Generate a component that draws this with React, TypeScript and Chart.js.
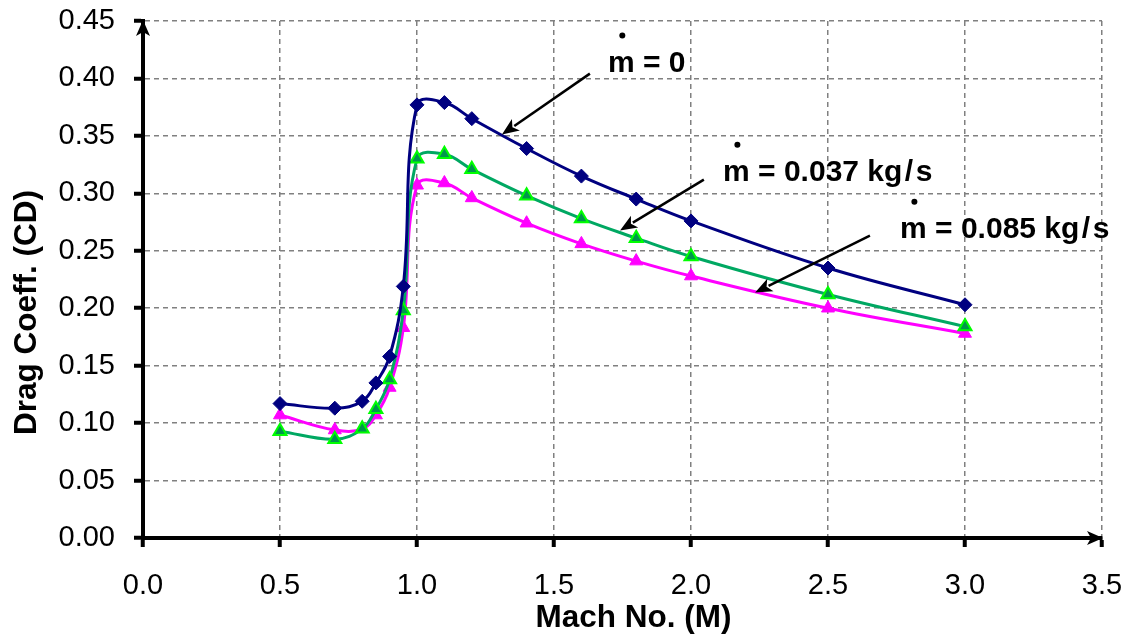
import { useEffect, useRef } from "react";
import { Chart, registerables } from "chart.js";

Chart.register(...registerables);

const FONT = "'Liberation Sans', Arial, sans-serif";

// Mach numbers (x) and drag coefficients (y) for the three mass-flow cases
const machNumbers = [0.5, 0.7, 0.8, 0.85, 0.9, 0.95, 1.0, 1.1, 1.2, 1.4, 1.6, 1.8, 2.0, 2.5, 3.0];
const cdZero = [0.117, 0.113, 0.119, 0.135, 0.158, 0.219, 0.377, 0.379, 0.365, 0.339, 0.315, 0.295, 0.276, 0.235, 0.203];
const cd037 = [0.093, 0.086, 0.095, 0.112, 0.138, 0.198, 0.330, 0.334, 0.321, 0.298, 0.278, 0.261, 0.245, 0.212, 0.184];
const cd085 = [0.107, 0.094, 0.095, 0.107, 0.131, 0.183, 0.307, 0.309, 0.296, 0.274, 0.256, 0.241, 0.228, 0.200, 0.178];

const xTickValues = [0, 0.5, 1.0, 1.5, 2.0, 2.5, 3.0, 3.5];
const xTickLabels = ["0.0", "0.5", "1.0", "1.5", "2.0", "2.5", "3.0", "3.5"];
const yTickValues = [0, 0.05, 0.1, 0.15, 0.2, 0.25, 0.3, 0.35, 0.4, 0.45];
const yTickLabels = ["0.00", "0.05", "0.10", "0.15", "0.20", "0.25", "0.30", "0.35", "0.40", "0.45"];

const xTitle = "Mach No. (M)";
const yTitle = "Drag Coeff. (CD)";

// Annotation labels: text after the dotted "m", text anchor and arrow (data coordinates)
const annoTexts = [" = 0", " = 0.037 kg\u200A/\u200As", " = 0.085 kg\u200A/\u200As"];
const annoTextAt = [[1.697, 0.406], [2.117, 0.311], [2.763, 0.2614]];
const annoFrom = [[1.631, 0.4042], [2.047, 0.3119], [2.653, 0.2631]];
const annoTo = [[1.31, 0.3512], [1.741, 0.2677], [2.234, 0.2137]];

function pts(ys: number[]) {
  return machNumbers.map((m, i) => ({ x: m, y: ys[i] }));
}

function arrow(ctx: CanvasRenderingContext2D, x1: number, y1: number, x2: number, y2: number, len: number, half: number) {
  const ang = Math.atan2(y2 - y1, x2 - x1);
  const c = Math.cos(ang), s = Math.sin(ang);
  const bx = x2 - len * c, by = y2 - len * s;
  ctx.beginPath();
  ctx.moveTo(x1, y1);
  ctx.lineTo(bx + 2 * c, by + 2 * s);
  ctx.stroke();
  ctx.beginPath();
  ctx.moveTo(x2, y2);
  ctx.lineTo(bx - half * s, by + half * c);
  ctx.lineTo(bx + len * 0.25 * c, by + len * 0.25 * s);
  ctx.lineTo(bx + half * s, by - half * c);
  ctx.closePath();
  ctx.fill();
}

const decorPlugin = {
  id: "decor",
  afterDraw(chart: any) {
    const { ctx, chartArea: a } = chart;
    const xs = chart.scales.x;
    const ys = chart.scales.y;
    ctx.save();
    ctx.fillStyle = "#000";
    ctx.strokeStyle = "#000";
    // axis arrowheads
    ctx.lineWidth = 4;
    arrow(ctx, a.left, a.top + 30, a.left, a.top - 1, 16, 7);
    arrow(ctx, a.right - 30, a.bottom, a.right + 1, a.bottom, 16, 7);

    // axis titles
    ctx.font = `bold 31.5px ${FONT}`;
    ctx.textAlign = "center";
    ctx.textBaseline = "alphabetic";
    ctx.fillText(xTitle, (a.left + a.right) / 2 + 11, a.bottom + 89);
    ctx.save();
    ctx.translate(a.left - 107, (a.top + a.bottom) / 2 + 33);
    ctx.rotate(-Math.PI / 2);
    ctx.fillText(yTitle, 0, 0);
    ctx.restore();

    // annotations
    ctx.lineWidth = 2.5;
    ctx.textAlign = "left";
    for (let i = 0; i < annoTexts.length; i++) {
      const fx = xs.getPixelForValue(annoFrom[i][0]);
      const fy = ys.getPixelForValue(annoFrom[i][1]);
      const tx = xs.getPixelForValue(annoTo[i][0]);
      const ty = ys.getPixelForValue(annoTo[i][1]);
      arrow(ctx, fx, fy, tx, ty, 17, 7);
      const lx = xs.getPixelForValue(annoTextAt[i][0]);
      const ly = ys.getPixelForValue(annoTextAt[i][1]);
      ctx.font = `bold 30px ${FONT}`;
      ctx.fillText("m", lx, ly);
      const mw = ctx.measureText("m").width;
      ctx.beginPath();
      ctx.arc(lx + mw / 2 + 1, ly - 36, 3, 0, Math.PI * 2);
      ctx.fill();
      ctx.fillText(annoTexts[i], lx + mw, ly);
    }
    ctx.restore();
  },
};

export default function App() {
  const ref = useRef<HTMLCanvasElement | null>(null);
  useEffect(() => {
    document.body.style.margin = "0";
    const canvas = ref.current;
    if (!canvas) return;
    const gridCommon = {
      color: "#808080",
      lineWidth: 1.5,
      drawTicks: true,
      tickLength: 9,
      tickColor: "#000",
      tickWidth: 4,
    };
    const chart = new Chart(canvas, {
      type: "line",
      data: {
        datasets: [
          {
            label: "m = 0",
            data: pts(cdZero),
            borderColor: "#000080",
            backgroundColor: "#000080",
            pointBackgroundColor: "#000080",
            pointBorderColor: "#000080",
            pointStyle: "rectRot",
            pointRadius: 7,
            pointBorderWidth: 1,
            borderWidth: 3,
            tension: 0.4,
            order: 0,
          },
          {
            label: "m = 0.037 kg/s",
            data: pts(cd037),
            borderColor: "#00A862",
            backgroundColor: "#00A862",
            pointBackgroundColor: "#00964C",
            pointBorderColor: "#00FF00",
            pointStyle: "triangle",
            pointRadius: 7.5,
            pointBorderWidth: 2,
            borderWidth: 3,
            tension: 0.4,
            order: 1,
          },
          {
            label: "m = 0.085 kg/s",
            data: pts(cd085),
            borderColor: "#FF00FF",
            backgroundColor: "#FF00FF",
            pointBackgroundColor: "#FF00FF",
            pointBorderColor: "#FF00FF",
            pointStyle: "triangle",
            pointRadius: 7.5,
            pointBorderWidth: 1,
            borderWidth: 3,
            tension: 0.4,
            order: 2,
          },
        ],
      },
      options: {
        responsive: false,
        animation: false,
        layout: { padding: { top: 21, right: 30, left: 0, bottom: 0 } },
        plugins: { legend: { display: false }, tooltip: { enabled: false } },
        scales: {
          x: {
            type: "linear",
            min: 0,
            max: 3.5,
            afterFit: (s: any) => {
              s.height = 99;
              s.paddingLeft = 0;
              s.paddingRight = 0;
            },
            afterBuildTicks: (s: any) => {
              s.ticks = xTickValues.map((v) => ({ value: v }));
            },
            ticks: {
              autoSkip: false,
              maxRotation: 0,
              padding: 22,
              color: "#000",
              font: { family: FONT, size: 29 },
              callback: (v: any) => xTickLabels[xTickValues.indexOf(v)] ?? "",
            },
            grid: gridCommon,
            border: { display: true, color: "#000", width: 4, dash: [5, 4] },
          },
          y: {
            type: "linear",
            min: 0,
            max: 0.45,
            afterFit: (s: any) => {
              s.width = 143;
              s.paddingTop = 0;
              s.paddingBottom = 0;
            },
            afterBuildTicks: (s: any) => {
              s.ticks = yTickValues.map((v) => ({ value: v }));
            },
            ticks: {
              autoSkip: false,
              padding: 19,
              color: "#000",
              font: { family: FONT, size: 29 },
              callback: (v: any) => yTickLabels[yTickValues.indexOf(v)] ?? "",
            },
            grid: gridCommon,
            border: { display: true, color: "#000", width: 4, dash: [5, 4] },
          },
        },
      },
      plugins: [decorPlugin],
    });
    return () => chart.destroy();
  }, []);
  return (
    <div style={{ width: 1132, height: 637 }}>
      <canvas ref={ref} width={1132} height={637} style={{ display: "block" }} />
    </div>
  );
}
